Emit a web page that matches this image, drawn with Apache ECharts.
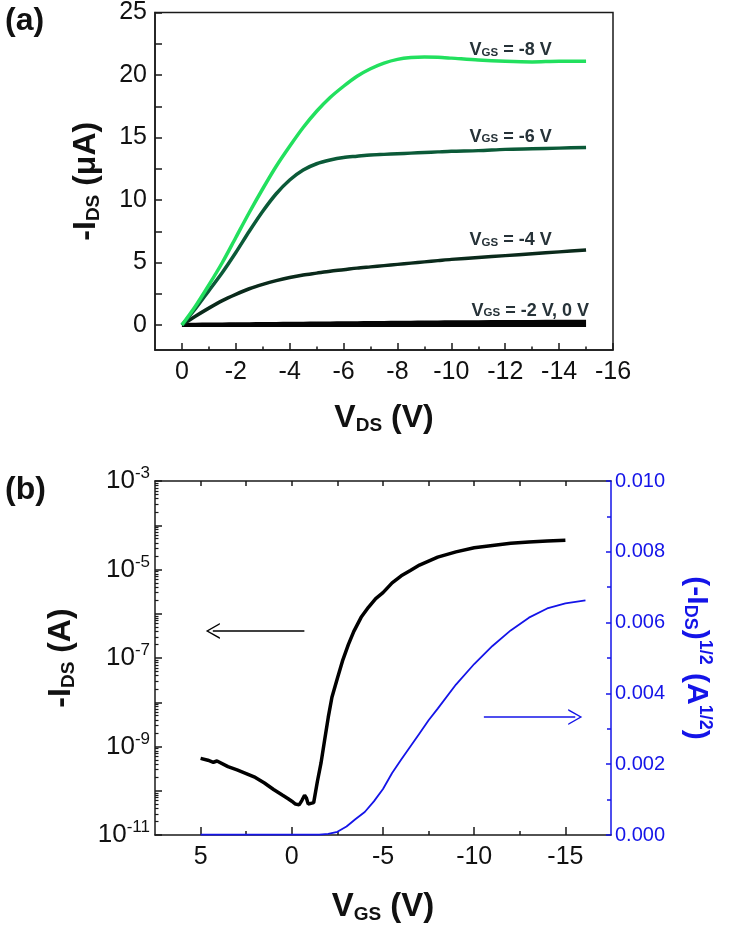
<!DOCTYPE html>
<html><head><meta charset="utf-8">
<script src="https://cdn.jsdelivr.net/npm/echarts@6/dist/echarts.min.js"></script>
<style>html,body{margin:0;padding:0;background:#fff}#c{width:736px;height:940px}</style>
</head><body><div id="c"></div>
<script>
// ---------- (a) output curves ----------
const vdsA = [0,-0.5,-1,-1.5,-2,-2.5,-3,-3.5,-4,-4.5,-5,-5.5,-6,-6.5,-7,-7.5,-8,-8.5,-9,-9.5,-10,-11,-12,-13,-14,-15];
const idsVgs8 = [0,1.5,3.2,5.0,7.0,9.0,10.9,12.7,14.3,15.8,17.1,18.2,19.1,19.9,20.5,20.95,21.25,21.4,21.45,21.42,21.35,21.2,21.1,21.05,21.1,21.1];
const idsVgs6 = [0,1.3,2.75,4.2,5.8,7.5,9.1,10.5,11.6,12.4,12.9,13.2,13.4,13.5,13.6,13.65,13.7,13.75,13.8,13.85,13.9,13.95,14.05,14.1,14.15,14.2];
const idsVgs4 = [0,0.7,1.35,1.95,2.45,2.9,3.25,3.55,3.8,4.0,4.15,4.3,4.42,4.55,4.65,4.75,4.85,4.95,5.05,5.15,5.25,5.4,5.55,5.7,5.85,6.0];
const idsVgs2 = [0,0.02,0.04,0.05,0.06,0.07,0.08,0.09,0.1,0.11,0.12,0.13,0.14,0.15,0.16,0.17,0.18,0.19,0.2,0.21,0.22,0.23,0.24,0.25,0.26,0.27];
const idsVgs0 = [0,0.005,0.01,0.01,0.01,0.01,0.01,0.01,0.01,0.01,0.01,0.01,0.01,0.01,0.01,0.01,0.01,0.01,0.01,0.01,0.01,0.01,0.01,0.01,0.01,0.01];
const vdsLabels = [0,-2,-4,-6,-8,-10,-12,-14,-16];
const vdsMinor = [-1,-3,-5,-7,-9,-11,-13,-15];
const idsALabels = [0,5,10,15,20,25];
const idsATicks = [0,2.5,5,7.5,10,12.5,15,17.5,20,22.5,25];
const curveLabels = [
  {gs:'-8 V', v:-12.2, i:22.0},
  {gs:'-6 V', v:-12.2, i:15.06},
  {gs:'-4 V', v:-12.2, i:6.8},
  {gs:'-2 V, 0 V', v:-12.93, i:1.14}
];
// ---------- (b) transfer curves ----------
const vgsLog = [5.0,4.6,4.3,4.1,4.0,3.5,3.0,2.5,2.0,1.5,1.0,0.5,0.2,0.0,-0.2,-0.4,-0.55,-0.7,-0.8,-0.9,-1.05,-1.2,-1.4,-1.6,-1.8,-2.0,-2.2,-2.5,-2.8,-3.1,-3.4,-3.8,-4.2,-4.6,-5.0,-5.5,-6.0,-6.5,-7.0,-8.0,-9.0,-10.0,-11.0,-12.0,-13.0,-14.0,-15.0];
const idsLog = [5.4e-10,4.9e-10,4.4e-10,4.7e-10,4.5e-10,3.5e-10,2.95e-10,2.45e-10,2.0e-10,1.5e-10,1.07e-10,7.9e-11,6.6e-11,5.8e-11,5.0e-11,4.8e-11,6.0e-11,7.9e-11,6.9e-11,5.0e-11,5.2e-11,5.4e-11,1.6e-10,4.2e-10,1.4e-9,4.6e-9,1.3e-8,3.5e-8,9.1e-8,2.0e-7,4.0e-7,8.3e-7,1.4e-6,2.2e-6,3.0e-6,5.0e-6,7.2e-6,9.5e-6,1.26e-5,1.9e-5,2.5e-5,3.1e-5,3.5e-5,3.9e-5,4.2e-5,4.4e-5,4.6e-5];
const vgsSqrt = [5,4,3,2,1,0,-1,-1.5,-2,-2.5,-3,-3.5,-4,-4.5,-5,-5.5,-6,-6.5,-7,-7.5,-8,-9,-10,-11,-12,-13,-14,-15,-16.1];
const sqrtIds = [0.00001,0.00001,0.00001,0.00001,0.00001,0.00001,0.00001,0.00001,0.00003,0.00009,0.00024,0.00045,0.00065,0.00095,0.0013,0.00175,0.00213,0.0025,0.00287,0.00324,0.00357,0.00425,0.00483,0.00534,0.00578,0.00614,0.0064,0.00654,0.00663];
const vgsLabels = [5,0,-5,-10,-15];
const vgsMinor = [2.5,-2.5,-7.5,-12.5];
const vgsTop = [5,2.5,0,-2.5,-5,-7.5,-10,-12.5,-15];
const logLabels = [1e-11,1e-9,1e-7,1e-5,1e-3];
const logDecades = [1e-11,1e-10,1e-9,1e-8,1e-7,1e-6,1e-5,1e-4,1e-3];
const logMinor = [];
for (let e = -11; e < -3; e++) for (let k = 2; k <= 9; k++) logMinor.push(k * Math.pow(10, e));
const arrowLeft = {from:[-0.69, 4.1e-7], to:[4.33, 4.1e-7]};
const arrowRight = {from:[-10.53, 0.00333], to:[-15.54, 0.00333]};

const FONT = 'Liberation Sans';
const DARK = '#1a1a1a';
const BLUE = '#1414e8';
const pairs = (xs, ys) => xs.map((x, i) => [x, ys[i]]);
const chevron = 'path://M8,0 L16,14 L14.4,14 L8,2.6 L1.6,14 L0,14 Z';

const nameRich = (color, big, small) => ({
  m:{fontSize:big, fontWeight:'bold', fontFamily:FONT, color:color},
  s:{fontSize:small, fontWeight:'bold', fontFamily:FONT, color:color, padding:[Math.round(big*0.45),0,0,0]},
  p:{fontSize:small, fontWeight:'bold', fontFamily:FONT, color:color, padding:[0,0,Math.round(big*0.55),0]}
});
const labelRich = {
  v:{fontSize:18, fontWeight:'bold', fontFamily:FONT, color:'#263238'},
  g:{fontSize:11.5, fontWeight:'bold', fontFamily:FONT, color:'#263238', padding:[5,0,0,0]}
};
function curveMark(idx){
  const c = curveLabels[idx];
  return {
    symbol:'circle', symbolSize:1, itemStyle:{color:'rgba(0,0,0,0)'}, silent:true,
    label:{show:true, position:'inside', formatter:() => '{v|V}{g|GS}{v| = ' + c.gs + '}', rich:labelRich},
    data:[{coord:[c.v, c.i]}]
  };
}
function lineSeries(data, color, width, markIdx){
  const s = {type:'line', xAxisIndex:0, yAxisIndex:0, data:data, showSymbol:false, smooth:0.3,
    lineStyle:{color:color, width:width}, itemStyle:{color:color}, z:3};
  if (markIdx !== undefined) s.markPoint = curveMark(markIdx);
  return s;
}
const line = (color) => ({show:true, onZero:false, lineStyle:{color:color, width:1.5}});
const noLine = {show:false, onZero:false};
const tickFont = {fontSize:25, color:'#111', fontFamily:FONT};

const chart = echarts.init(document.getElementById('c'));
chart.setOption({
  animation:false,
  textStyle:{fontFamily:FONT},
  title:[
    {text:'(a)', left:0, top:0, textStyle:{fontSize:32, fontWeight:'bold', fontFamily:FONT, color:'#111'}},
    {text:'(b)', left:0, top:469, textStyle:{fontSize:32, fontWeight:'bold', fontFamily:FONT, color:'#111'}}
  ],
  grid:[
    {left:155, right:123, top:12.5, bottom:590, show:true, borderColor:DARK, borderWidth:1.5, backgroundColor:'transparent'},
    {left:155, right:125, top:481, bottom:105}
  ],
  xAxis:[
    {gridIndex:0, type:'value', inverse:true, min:-16, max:1, position:'bottom',
     axisLine:line(DARK),
     axisTick:{show:true, inside:true, length:7, customValues:vdsLabels, lineStyle:{color:DARK, width:1.5}},
     axisLabel:Object.assign({customValues:vdsLabels, margin:10}, tickFont),
     splitLine:{show:false},
     name:'{m|V}{s|DS}{m| (V)}', nameLocation:'middle', nameGap:52,
     nameTextStyle:{rich:nameRich('#111', 32, 19)}},
    {gridIndex:0, type:'value', inverse:true, min:-16, max:1, position:'bottom',
     axisLine:noLine, axisLabel:{show:false}, splitLine:{show:false},
     axisTick:{show:true, inside:true, length:3.5, customValues:vdsMinor, lineStyle:{color:DARK, width:1.5}}},
    {gridIndex:1, type:'value', inverse:true, min:-17.5, max:7.5, position:'bottom',
     axisLine:line(DARK),
     axisTick:{show:true, inside:true, length:8, customValues:vgsLabels, lineStyle:{color:DARK, width:1.5}},
     axisLabel:Object.assign({customValues:vgsLabels, margin:10}, tickFont),
     splitLine:{show:false},
     name:'{m|V}{s|GS}{m| (V)}', nameLocation:'middle', nameGap:55,
     nameTextStyle:{rich:nameRich('#111', 33, 19)}},
    {gridIndex:1, type:'value', inverse:true, min:-17.5, max:7.5, position:'bottom',
     axisLine:noLine, axisLabel:{show:false}, splitLine:{show:false},
     axisTick:{show:true, inside:true, length:4, customValues:vgsMinor, lineStyle:{color:DARK, width:1.5}}},
    {gridIndex:1, type:'value', inverse:true, min:-17.5, max:7.5, position:'top',
     axisLine:line(DARK), axisLabel:{show:false}, splitLine:{show:false},
     axisTick:{show:true, inside:true, length:5, customValues:vgsTop, lineStyle:{color:DARK, width:1.5}}}
  ],
  yAxis:[
    {gridIndex:0, type:'value', min:-2, max:25, position:'left',
     axisLine:line(DARK),
     axisTick:{show:true, inside:true, length:7, customValues:idsATicks, lineStyle:{color:DARK, width:1.5}},
     axisLabel:Object.assign({customValues:idsALabels, margin:8}, tickFont),
     splitLine:{show:false},
     name:'{m|-I}{s|DS}{m| (μA)}', nameLocation:'middle', nameGap:52, nameRotate:90,
     nameTextStyle:{rich:nameRich('#111', 32, 19)}},
    {gridIndex:1, type:'log', logBase:10, min:1e-11, max:1e-3, position:'left',
     axisLine:line(DARK),
     axisTick:{show:true, inside:true, length:7, customValues:logDecades, lineStyle:{color:DARK, width:1.5}},
     axisLabel:{customValues:logLabels, margin:5, color:'#111',
       formatter:(v) => '{b|10}{e|' + Math.round(Math.log10(v)) + '}',
       rich:{b:{fontSize:26, fontFamily:FONT, color:'#111'}, e:{fontSize:17, fontFamily:FONT, color:'#111', padding:[0,0,15,0]}}},
     splitLine:{show:false},
     name:'{m|-I}{s|DS}{m| (A)}', nameLocation:'middle', nameGap:77, nameRotate:90,
     nameTextStyle:{rich:nameRich('#111', 32, 19)}},
    {gridIndex:1, type:'log', logBase:10, min:1e-11, max:1e-3, position:'left',
     axisLine:noLine, axisLabel:{show:false}, splitLine:{show:false},
     axisTick:{show:true, inside:true, length:3.5, customValues:logMinor, lineStyle:{color:DARK, width:1.2}}},
    {gridIndex:1, type:'value', min:0, max:0.01, interval:0.002, position:'right',
     axisLine:line(BLUE),
     axisTick:{show:true, inside:true, length:5, lineStyle:{color:BLUE, width:1.5}},
     minorTick:{show:true, splitNumber:2, length:4, lineStyle:{color:BLUE, width:1.5}},
     axisLabel:{fontSize:20, color:BLUE, margin:4, fontFamily:FONT, formatter:(v) => v.toFixed(3)},
     splitLine:{show:false},
     name:'{m|(-I}{s|DS}{m|)}{p|1/2}{m| (A}{p|1/2}{m|)}', nameLocation:'middle', nameGap:68, nameRotate:-90,
     nameTextStyle:{rich:nameRich(BLUE, 30, 18)}}
  ],
  series:[
    lineSeries(pairs(vdsA, idsVgs0), '#050505', 4),
    lineSeries(pairs(vdsA, idsVgs2), '#050505', 4, 3),
    lineSeries(pairs(vdsA, idsVgs4), '#0a2a1b', 3.5, 2),
    lineSeries(pairs(vdsA, idsVgs6), '#0b5a38', 3.5, 1),
    lineSeries(pairs(vdsA, idsVgs8), '#22e05e', 3.5, 0),
    {type:'line', xAxisIndex:2, yAxisIndex:1, data:pairs(vgsLog, idsLog), showSymbol:false,
     lineStyle:{color:'#000', width:3.5}, itemStyle:{color:'#000'},
     markLine:{silent:true, symbol:['none', chevron], symbolSize:[16,14], label:{show:false},
       lineStyle:{color:'#000', width:1.5, type:'solid'},
       data:[[{coord:arrowLeft.from}, {coord:arrowLeft.to}]]}},
    {type:'line', xAxisIndex:2, yAxisIndex:3, data:pairs(vgsSqrt, sqrtIds), showSymbol:false,
     lineStyle:{color:BLUE, width:1.8}, itemStyle:{color:BLUE},
     markLine:{silent:true, symbol:['none', chevron], symbolSize:[16,14], label:{show:false},
       lineStyle:{color:BLUE, width:1.5, type:'solid'},
       data:[[{coord:arrowRight.from}, {coord:arrowRight.to}]]}}
  ]
});
</script>
</body></html>
